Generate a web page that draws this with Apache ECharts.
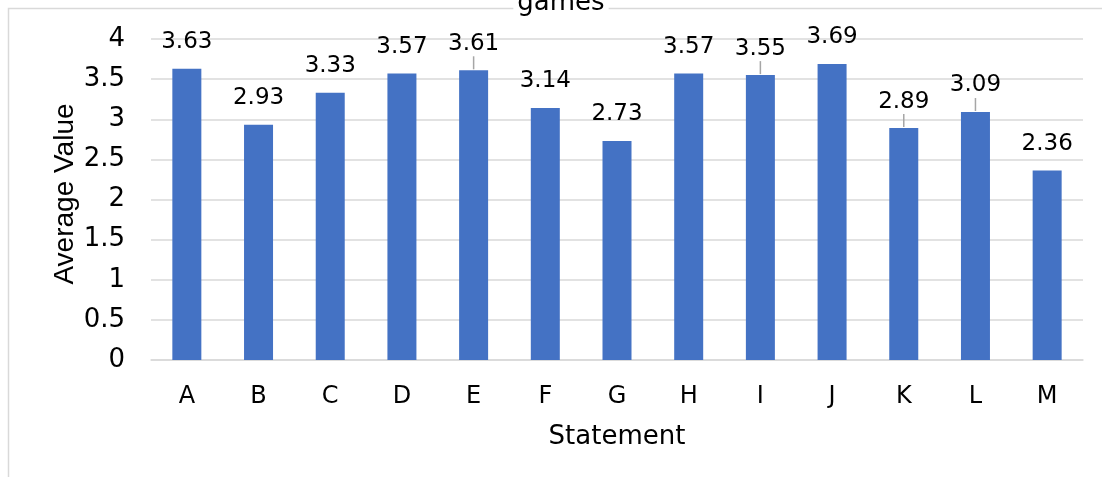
<!DOCTYPE html>
<html>
<head>
<meta charset="utf-8">
<script src="https://cdn.jsdelivr.net/npm/echarts@6/dist/echarts.min.js"></script>
<style>
	html, body { margin: 0; padding: 0; background: #fff; }
	#main { width: 1102px; height: 477px; }
</style>
</head>
<body>
<div id="main"></div>
<script>
// data
const statements = ["A", "B", "C", "D", "E", "F", "G", "H", "I", "J", "K", "L", "M"];
const averageValues = [3.63, 2.93, 3.33, 3.57, 3.61, 3.14, 2.73, 3.57, 3.55, 3.69, 2.89, 3.09, 2.36];
const yTicks = [0, 0.5, 1, 1.5, 2, 2.5, 3, 3.5, 4];
// labels that Excel drew with a leader line
const withLeader = ["E", "I", "K", "L"];

const chart = echarts.init(document.getElementById("main"));

const font = "DejaVu Sans";
const labelGap = 15;

const option = {
	animation: false,
	graphic: [
		{
			// chart area frame, only top and left edges visible in the crop
			type: "polyline",
			shape: { points: [[8.5, 477], [8.5, 8.5], [1102, 8.5]] },
			style: { stroke: "#d9d9d9", lineWidth: 1.5, fill: null },
			z: 0,
		},
		{
			type: "text",
			x: 561,
			y: 3,
			style: {
				text: "games",
				font: "26px 'DejaVu Sans'",
				fill: "#000",
				align: "center",
				verticalAlign: "middle",
				backgroundColor: "#fff",
				padding: [0, 4],
			},
			z: 5,
		},
	],
	grid: {
		left: 151,
		right: 19,
		top: 39,
		bottom: 117,
	},
	xAxis: {
		type: "category",
		data: statements,
		name: "Statement",
		nameLocation: "middle",
		nameGap: 64,
		nameTextStyle: { fontFamily: font, fontSize: 26, color: "#000" },
		axisLine: { lineStyle: { color: "#d9d9d9", width: 1.5 } },
		axisTick: { show: false },
		axisLabel: { fontFamily: font, fontSize: 24, color: "#000", margin: 25 },
	},
	yAxis: {
		type: "value",
		min: yTicks[0],
		max: yTicks[yTicks.length - 1],
		interval: yTicks[1] - yTicks[0],
		name: "Average Value",
		nameLocation: "middle",
		nameGap: 72,
		nameMoveOverlap: false,
		nameTextStyle: {
			fontFamily: "Liberation Sans",
			fontSize: 28,
			color: "#000",
			padding: [0, 0, 0, 11],
		},
		axisLine: { show: false },
		axisTick: { show: false },
		axisLabel: { fontFamily: font, fontSize: 26, color: "#000", margin: 26 },
		splitLine: { lineStyle: { color: "#d9d9d9", width: 1.5 } },
	},
	series: [
		{
			type: "bar",
			data: averageValues,
			barWidth: 29,
			itemStyle: { color: "#4472C4" },
			label: {
				show: true,
				position: "top",
				distance: labelGap,
				fontFamily: font,
				fontSize: 23,
				color: "#000",
			},
			z: 2,
		},
		{
			// leader lines from the moved labels down to the bar tops
			type: "custom",
			data: statements.map((s, i) => [i, averageValues[i]]).filter((d) => withLeader.includes(statements[d[0]])),
			renderItem: (params, api) => {
				const p = api.coord([api.value(0), api.value(1)]);
				return {
					type: "line",
					shape: { x1: p[0], y1: p[1] - 1, x2: p[0], y2: p[1] - labelGap + 1 },
					style: { stroke: "#a6a6a6", lineWidth: 1.5 },
				};
			},
			silent: true,
			z: 3,
		},
	],
};

chart.setOption(option);
</script>
</body>
</html>
